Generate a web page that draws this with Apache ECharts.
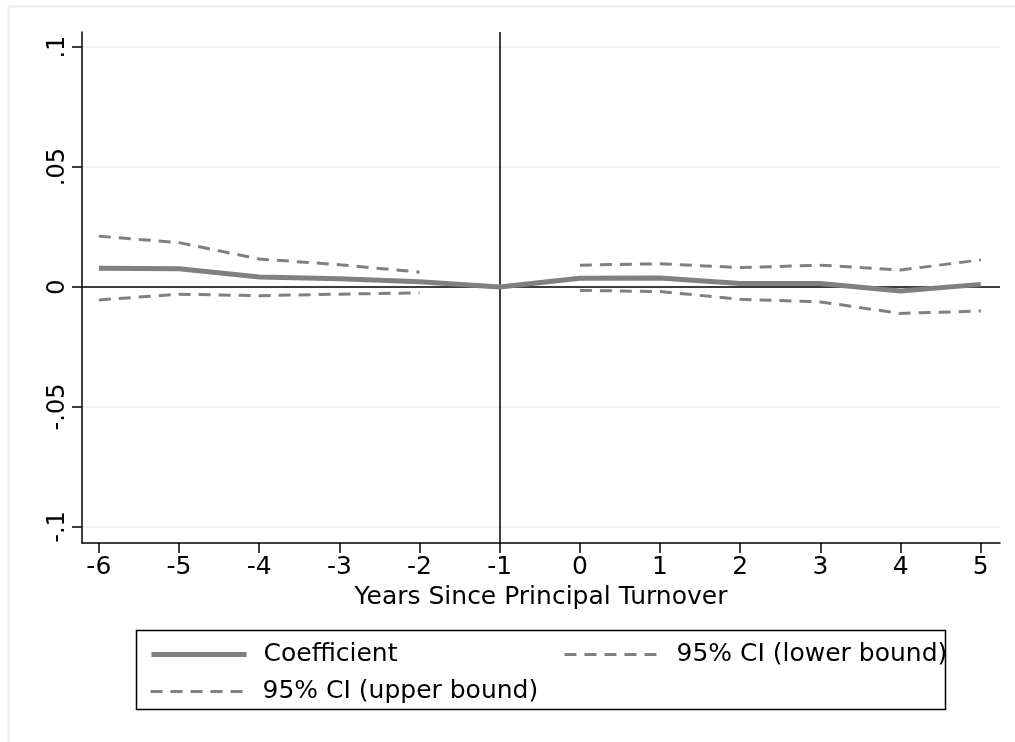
<!DOCTYPE html>
<html>
<head>
<meta charset="utf-8">
<script src="https://cdn.jsdelivr.net/npm/echarts@6/dist/echarts.min.js"></script>
<style>
  html, body { margin: 0; padding: 0; background: #fff; }
  #chart { width: 1015px; height: 742px; }
</style>
</head>
<body>
<div id="chart"></div>
<script>
// years relative to principal turnover
var years = [-6, -5, -4, -3, -2, -1, 0, 1, 2, 3, 4, 5];
var coefficient = [0.0078, 0.0076, 0.0042, 0.0034, 0.0022, 0, 0.0037, 0.0038, 0.0015, 0.0015, -0.0017, 0.0011];
var ciUpper = [0.0212, 0.0185, 0.0117, 0.0093, 0.0062, null, 0.0091, 0.0097, 0.0081, 0.0091, 0.0071, 0.0113];
var ciLower = [-0.0054, -0.003, -0.0036, -0.003, -0.0024, null, -0.0014, -0.0019, -0.0051, -0.0062, -0.011, -0.01];
var yTicks = [-0.1, -0.05, 0, 0.05, 0.1];

function pairs(vals) {
  return years.map(function (x, i) { return [x, vals[i]]; });
}

var FONT = "DejaVu Sans";
var GRAY = "#808080";

var myChart = echarts.init(document.getElementById("chart"));

// one legend per entry so the two-column Stata layout can be reproduced
function legendAt(left, top, name, lineStyle) {
  return {
    left: left, top: top, padding: 0,
    itemWidth: 95, itemHeight: 20,
    itemStyle: { opacity: 0 },
    lineStyle: lineStyle,
    textStyle: { color: "#000", fontSize: 25, fontFamily: FONT, padding: [0, 0, 0, 12] },
    data: [name]
  };
}

var option = {
  animation: false,
  backgroundColor: "#fff",
  textStyle: { fontFamily: FONT },
  grid: { left: 82, right: 15, top: 32, bottom: 199 },
  xAxis: {
    type: "value",
    min: -6.21,
    max: 5.24,
    name: "Years Since Principal Turnover",
    nameLocation: "middle",
    nameGap: 42,
    nameTextStyle: { color: "#000", fontSize: 25, fontFamily: FONT },
    axisLine: { show: true, onZero: false, lineStyle: { color: "#000", width: 1.5 } },
    axisTick: { show: true, length: 10, customValues: years, lineStyle: { color: "#000", width: 1.5 } },
    axisLabel: {
      customValues: years,
      color: "#000",
      fontSize: 25,
      margin: 12,
      fontFamily: FONT
    },
    splitLine: { show: false }
  },
  yAxis: {
    type: "value",
    min: -0.1067,
    max: 0.1063,
    axisLine: { show: true, onZero: false, lineStyle: { color: "#000", width: 1.5 } },
    axisTick: { show: true, length: 10, customValues: yTicks, lineStyle: { color: "#000", width: 1.5 } },
    axisLabel: {
      customValues: yTicks,
      rotate: 90,
      color: "#000",
      fontSize: 24,
      margin: 12,
      fontFamily: FONT,
      formatter: function (v) {
        if (v === 0) return "0";
        var s = String(Math.round(v * 100) / 100);
        return s.replace("0.", ".");
      }
    },
    splitLine: { show: true, lineStyle: { color: "#eaf2f3", width: 2 } }
  },
  legend: [
    legendAt(149, 642, "Coefficient", { color: GRAY, width: 5, type: "solid" }),
    legendAt(563, 642, "95% CI (lower bound)", { color: GRAY, width: 3, type: [12, 8] }),
    legendAt(149, 679, "95% CI (upper bound)", { color: GRAY, width: 3, type: [12, 8] })
  ],
  graphic: [
    {
      type: "rect", silent: true, z: -10,
      shape: { x: 8.5, y: 6.5, width: 1020, height: 750 },
      style: { fill: null, stroke: "#e6eef0", lineWidth: 2 }
    },
    {
      type: "rect", silent: true,
      shape: { x: 136.5, y: 630.5, width: 809, height: 79 },
      style: { fill: null, stroke: "#000", lineWidth: 1.5 }
    }
  ],
  series: [
    {
      name: "Coefficient",
      type: "line",
      data: pairs(coefficient),
      symbol: "none",
      z: 3,
      lineStyle: { color: GRAY, width: 5 },
      itemStyle: { color: GRAY },
      markLine: {
        silent: true,
        symbol: "none",
        z: 2,
        label: { show: false },
        lineStyle: { color: "#000", width: 1.5, type: "solid" },
        data: [{ yAxis: 0 }, { xAxis: -1 }]
      }
    },
    {
      name: "95% CI (lower bound)",
      type: "line",
      data: pairs(ciLower),
      symbol: "none",
      connectNulls: false,
      lineStyle: { color: GRAY, width: 3, type: [12, 8] },
      itemStyle: { color: GRAY }
    },
    {
      name: "95% CI (upper bound)",
      type: "line",
      data: pairs(ciUpper),
      symbol: "none",
      connectNulls: false,
      lineStyle: { color: GRAY, width: 3, type: [12, 8] },
      itemStyle: { color: GRAY }
    }
  ]
};

myChart.setOption(option);
window.addEventListener("resize", function () {
  myChart.resize();
});
</script>
</body>
</html>
